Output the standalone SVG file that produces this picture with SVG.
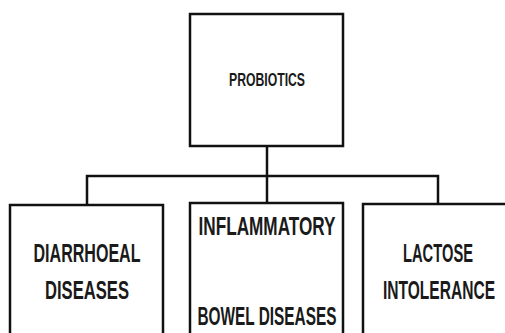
<svg xmlns="http://www.w3.org/2000/svg" width="505" height="333" viewBox="0 0 505 333">
<style>
.box{fill:#fff;stroke:#111;stroke-width:2.5}
.ln{fill:none;stroke:#111;stroke-width:2.5}
text{font-family:"Liberation Sans Narrow","Liberation Sans",Arial,sans-serif;font-weight:bold;fill:#1a1a1a;text-anchor:middle}
</style>
<rect width="505" height="333" fill="#fff"/>
<g id="connectors">
<path class="ln" d="M267,146 V176 M87,205 V176 H438 V204 M267,176 V203"/>
</g>
<g id="probiotics">
<rect class="box" x="190" y="14" width="153" height="132"/>
<text x="267" y="86" font-size="18" textLength="76" lengthAdjust="spacingAndGlyphs">PROBIOTICS</text>
</g>
<g id="diarrhoeal">
<path class="box" d="M10,333 V205 H163 V333"/>
<text x="87" y="262" font-size="26" textLength="107" lengthAdjust="spacingAndGlyphs">DIARRHOEAL</text>
<text x="87" y="299" font-size="26" textLength="84" lengthAdjust="spacingAndGlyphs">DISEASES</text>
</g>
<g id="ibd">
<path class="box" d="M190,333 V203 H343 V333"/>
<text x="267" y="235" font-size="26" textLength="137" lengthAdjust="spacingAndGlyphs">INFLAMMATORY</text>
<text x="267" y="325" font-size="26" textLength="139" lengthAdjust="spacingAndGlyphs">BOWEL DISEASES</text>
</g>
<g id="lactose">
<path class="box" d="M363,333 V204 H505"/>
<text transform="translate(438,262) scale(1,1.53)" x="0" y="0" font-size="17" textLength="70" lengthAdjust="spacingAndGlyphs">LACTOSE</text>
<text transform="translate(439,299) scale(1,1.53)" x="0" y="0" font-size="17" textLength="112" lengthAdjust="spacingAndGlyphs">INTOLERANCE</text>
</g>
</svg>
